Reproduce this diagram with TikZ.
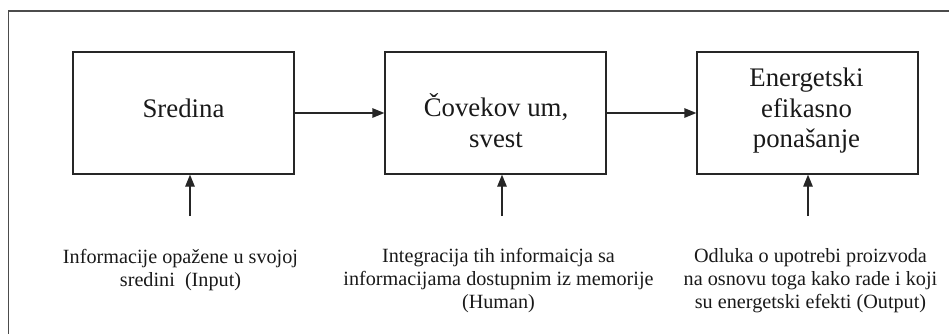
\documentclass[tikz,border=0pt]{standalone}
\usepackage{fontspec}
\setmainfont{Liberation Serif}
\usetikzlibrary{arrows.meta}
\begin{document}
\begin{tikzpicture}[x=1pt,y=-1pt,
  stage/.style={draw=black!85, line width=1.3pt, minimum width=221pt,
    minimum height=122pt, inner sep=0pt},
  stagetext/.style={align=center, inner sep=0pt, text=black!90,
    font=\fontsize{26.8}{30.5}\selectfont},
  note/.style={align=center, inner sep=0pt, text=black!90,
    font=\fontsize{20.2}{23}\selectfont},
  flow/.style={draw=black!85, line width=1.3pt,
    -{Triangle[length=12pt,width=9.5pt]}}
]
\useasboundingbox (0,0) rectangle (949,333);
% outer frame, running past the right and bottom edges
\draw[line width=1.2pt, black!70] (8.5,360) |- (980,11);

% the three stages
\node[stage] (env)  at (183.5,113) {};
\node[stage] (mind) at (495.5,113) {};
\node[stage] (act)  at (807.5,113) {};

\node[stagetext] (envtext)  at (183.5,108) {Sredina};
\node[stagetext] (mindtext) at (496,120.5) {Čovekov um,\\svest};
\node[stagetext] (acttext)  at (806.5,111) {Energetski\\efikasno\\ponašanje};

% flow between stages
\draw[flow] (env.east) -- (mind.west);
\draw[flow] (mind.east) -- (act.west);

% inputs from below
\coordinate (in1) at (190,216);
\coordinate (in2) at (502,216);
\coordinate (in3) at (808,216);
\draw[flow] (in1) -- (in1 |- env.south);
\draw[flow] (in2) -- (in2 |- mind.south);
\draw[flow] (in3) -- (in3 |- act.south);

% descriptions
\node[note] (n1) at (180.5,270) {Informacije opažene u svojoj\\sredini~ (Input)};
\node[note] (n2) at (498.5,281) {Integracija tih informaicja sa\\informacijama dostupnim iz memorije\\(Human)};
\node[note] (n3) at (810.5,281) {Odluka o upotrebi proizvoda\\na osnovu toga kako rade i koji\\su energetski efekti (Output)};
\end{tikzpicture}
\end{document}
